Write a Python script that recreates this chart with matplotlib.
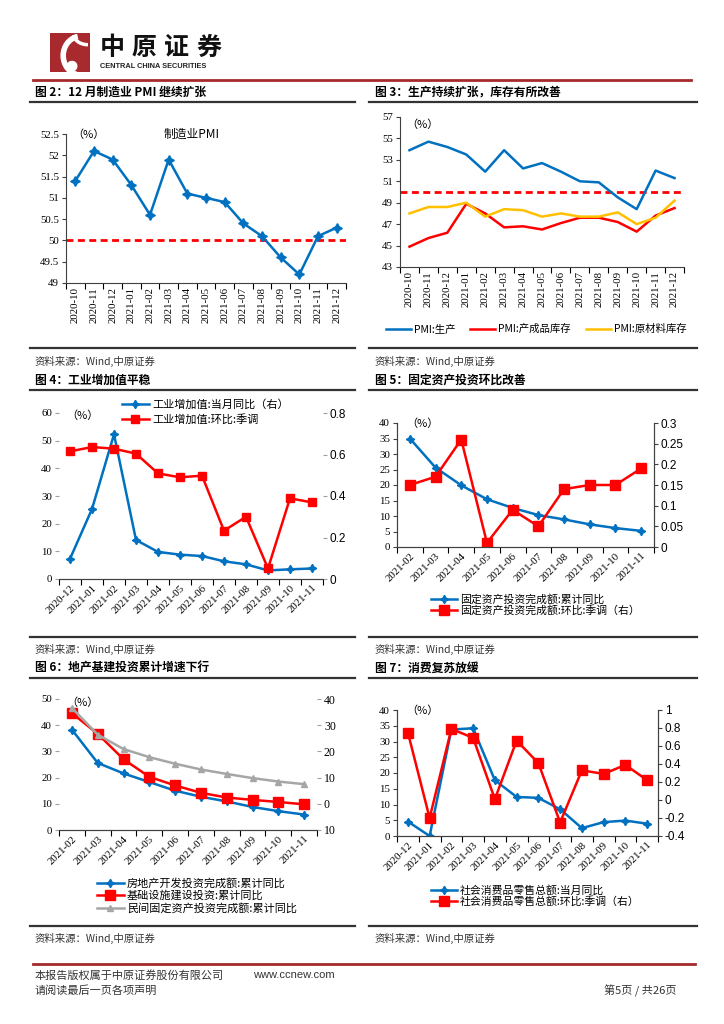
import numpy as np
import matplotlib
matplotlib.use('Agg')
import matplotlib.pyplot as plt
from matplotlib.lines import Line2D
from matplotlib.patches import Rectangle, Arc, Wedge
from matplotlib.font_manager import FontProperties

W, H = 724, 1024
CJK = ['Noto Sans CJK SC', 'DejaVu Sans']
SERIF = 'Liberation Serif'
SANS = 'Liberation Sans'
BLUE = '#0070C0'
RED = '#FF0000'
GOLD = '#FFC000'
GREY = '#A6A6A6'
DARK = '#333333'

# ---- data ----
months15 = ['2020-10', '2020-11', '2020-12', '2021-01', '2021-02', '2021-03', '2021-04',
            '2021-05', '2021-06', '2021-07', '2021-08', '2021-09', '2021-10', '2021-11', '2021-12']
pmi = [51.4, 52.1, 51.9, 51.3, 50.6, 51.9, 51.1, 51.0, 50.9, 50.4, 50.1, 49.6, 49.2, 50.1, 50.3]
pmi_prod = [53.9, 54.7, 54.2, 53.5, 51.9, 53.9, 52.2, 52.7, 51.9, 51.0, 50.9, 49.5, 48.4, 52.0, 51.3]
pmi_fin_inv = [44.9, 45.7, 46.2, 48.9, 48.0, 46.7, 46.8, 46.5, 47.1, 47.6, 47.6, 47.2, 46.3, 47.8, 48.5]
pmi_raw_inv = [48.0, 48.6, 48.6, 49.0, 47.7, 48.4, 48.3, 47.7, 48.0, 47.7, 47.7, 48.1, 47.0, 47.6, 49.2]

months12 = ['2020-12', '2021-01', '2021-02', '2021-03', '2021-04', '2021-05', '2021-06',
            '2021-07', '2021-08', '2021-09', '2021-10', '2021-11']
ip_yoy = [7.3, 25.3, 52.3, 14.1, 9.8, 8.8, 8.3, 6.4, 5.3, 3.1, 3.5, 3.8]
ip_mom = [0.615, 0.636, 0.628, 0.604, 0.509, 0.49, 0.498, 0.233, 0.30, 0.051, 0.389, 0.369]

months10 = ['2021-02', '2021-03', '2021-04', '2021-05', '2021-06', '2021-07', '2021-08',
            '2021-09', '2021-10', '2021-11']
fai_ytd = [35.0, 25.6, 19.9, 15.4, 12.6, 10.3, 8.9, 7.3, 6.1, 5.2]
fai_mom = [0.15, 0.17, 0.26, 0.01, 0.09, 0.05, 0.14, 0.15, 0.15, 0.19]

re_inv = [38.3, 25.6, 21.6, 18.3, 15.0, 12.7, 10.9, 8.8, 7.2, 5.9]
infra_inv = [34.6, 26.7, 17.0, 10.3, 7.0, 4.2, 2.4, 1.5, 0.7, -0.2]
private_inv = [36.6, 26.4, 20.9, 17.8, 15.3, 13.1, 11.4, 9.8, 8.5, 7.5]

retail_yoy = [4.6, 0.0, 33.8, 34.2, 17.7, 12.4, 12.1, 8.5, 2.5, 4.4, 4.9, 3.9]
retail_mom = [0.75, -0.20, 0.79, 0.69, 0.01, 0.66, 0.41, -0.25, 0.33, 0.29, 0.39, 0.22]

plt.rcParams['font.family'] = SERIF
plt.rcParams['axes.edgecolor'] = '#404040'
plt.rcParams['axes.linewidth'] = 0.8

fig = plt.figure(figsize=(W / 100, H / 100), dpi=100)


def add_ax(x0, y0, x1, y1):
    return fig.add_axes([x0 / W, 1 - y1 / H, (x1 - x0) / W, (y1 - y0) / H])


def ftext(x, y, s, **kw):
    kw.setdefault('family', CJK)
    kw.setdefault('va', 'center')
    fig.text(x / W, 1 - y / H, s, **kw)


def hline(x0, x1, y, color=DARK, lw=1.6):
    fig.add_artist(Line2D([x0 / W, x1 / W], [1 - y / H, 1 - y / H], color=color, lw=lw))


def cat_axis(ax, labels, rot):
    n = len(labels)
    ax.set_xlim(-0.5, n - 0.5)
    ax.set_xticks(np.arange(n + 1) - 0.5)
    ax.set_xticklabels([])
    ax.set_xticks(np.arange(n), minor=True)
    if rot == 90:
        ax.set_xticklabels(labels, minor=True, rotation=90, ha='center', va='top')
    else:
        ax.set_xticklabels(labels, minor=True, rotation=45, ha='right', va='top',
                           rotation_mode='anchor')
    ax.tick_params(axis='x', which='major', length=4, direction='out', width=0.8)
    ax.tick_params(axis='x', which='minor', length=0, labelsize=7.8, pad=3)


def yaxis(ax, lo, hi, ticks, labels, fam=SERIF, size=7.8, color='#404040'):
    ax.set_ylim(lo, hi)
    ax.set_yticks(ticks)
    ax.set_yticklabels(labels, family=fam, fontsize=size)
    ax.tick_params(axis='y', length=3, width=0.8, color=color, pad=2)


def legend(handles, labels, x, y, size=7.5, spacing=0.3, ncol=1, colsp=1.0):
    fig.legend(handles, labels, loc='upper left', bbox_to_anchor=(x / W, 1 - y / H),
               frameon=False, prop=FontProperties(family=CJK, size=size),
               handlelength=2.4, handletextpad=0.3, labelspacing=spacing,
               borderpad=0, borderaxespad=0, ncol=ncol, columnspacing=colsp)


STAR = (4, 1, 0)

# ---- header ----
logo = add_ax(50, 33, 90, 72)
logo.set_xlim(0, 1)
logo.set_ylim(0, 1)
logo.axis('off')
logo.add_patch(Rectangle((0, 0), 1, 1, color='#A8292E'))
logo.add_patch(Arc((0.78, 0.42), 0.9, 1.0, theta1=100, theta2=260, color='white', lw=4))
logo.add_patch(Arc((0.95, 0.95), 0.7, 0.5, theta1=180, theta2=270, color='white', lw=2.5))
logo.add_patch(Wedge((0.55, 0.15), 0.12, 0, 360, color='white'))
for i, ch in enumerate('中原证券'):
    ftext(100 + i * 32, 48, ch, fontsize=18, weight='bold', color='#111111')
fig.text(100 / W, 1 - 66 / H, 'CENTRAL CHINA SECURITIES', family=SANS, fontsize=5.3,
         weight='bold', va='center', color='#222222')
hline(33, 691, 80, color='#A52A2A', lw=2)

# ---- section titles / separators ----
ftext(35, 92, '图 2：12 月制造业 PMI 继续扩张', fontsize=8.5, weight='bold')
ftext(375, 92, '图 3：生产持续扩张，库存有所改善', fontsize=8.5, weight='bold')
hline(30, 355, 102)
hline(369, 697, 102)
hline(30, 355, 348)
hline(369, 697, 348)
ftext(35, 361, '资料来源：Wind,中原证券', fontsize=7.5, color=DARK)
ftext(375, 361, '资料来源：Wind,中原证券', fontsize=7.5, color=DARK)

ftext(35, 380, '图 4：工业增加值平稳', fontsize=8.5, weight='bold')
ftext(375, 380, '图 5：固定资产投资环比改善', fontsize=8.5, weight='bold')
hline(30, 355, 390)
hline(369, 697, 390)
hline(30, 355, 637)
hline(369, 697, 637)
ftext(35, 649, '资料来源：Wind,中原证券', fontsize=7.5, color=DARK)
ftext(375, 649, '资料来源：Wind,中原证券', fontsize=7.5, color=DARK)

ftext(35, 668, '图 6：地产基建投资累计增速下行', fontsize=8.5, weight='bold')
ftext(375, 668, '图 7：消费复苏放缓', fontsize=8.5, weight='bold')
hline(30, 355, 678)
hline(369, 697, 678)
hline(30, 355, 926)
hline(369, 697, 926)
ftext(35, 938, '资料来源：Wind,中原证券', fontsize=7.5, color=DARK)
ftext(375, 938, '资料来源：Wind,中原证券', fontsize=7.5, color=DARK)

# ---- chart 2: manufacturing PMI ----
ax2 = add_ax(66, 134, 346, 283)
x15 = np.arange(len(months15))
ax2.axhline(50, color=RED, lw=2, dashes=(2.5, 1.6))
ax2.plot(x15, pmi, color=BLUE, lw=1.8, marker=STAR, ms=7)
yaxis(ax2, 49, 52.5, np.arange(49, 52.51, 0.5),
      ['49', '49.5', '50', '50.5', '51', '51.5', '52', '52.5'])
cat_axis(ax2, months15, 90)
for s in ['top', 'right']:
    ax2.spines[s].set_visible(False)
ftext(72, 135, '（%）', fontsize=8)
ftext(192, 134, '制造业PMI', fontsize=8.5, ha='center')

# ---- chart 3: production & inventories ----
ax3 = add_ax(400, 117, 684, 267)
ax3.axhline(50, color=RED, lw=2, dashes=(2.5, 1.6))
ax3.plot(x15, pmi_prod, color=BLUE, lw=1.8)
ax3.plot(x15, pmi_fin_inv, color=RED, lw=1.8)
ax3.plot(x15, pmi_raw_inv, color=GOLD, lw=1.8)
yaxis(ax3, 43, 57, np.arange(43, 57.1, 2), [str(v) for v in range(43, 58, 2)])
cat_axis(ax3, months15, 90)
for s in ['top', 'right']:
    ax3.spines[s].set_visible(False)
ftext(406, 125, '（%）', fontsize=8)
legend([Line2D([], [], color=c, lw=1.8) for c in (BLUE, RED, GOLD)],
       ['PMI:生产', 'PMI:产成品库存', 'PMI:原材料库存'], 386, 324, size=7.5,
       ncol=3, colsp=1.4)

# ---- chart 4: industrial value added ----
x12 = np.arange(len(months12))
ax4 = add_ax(59, 413, 323, 579)
ax4.plot(x12, ip_yoy, color=BLUE, lw=1.8, marker=STAR, ms=6)
yaxis(ax4, 0, 60, np.arange(0, 61, 10), [str(v) for v in range(0, 61, 10)], color='#A0A0A0')
cat_axis(ax4, months12, 45)
ax4r = ax4.twinx()
ax4r.plot(x12, ip_mom, color=RED, lw=1.8, marker='s', ms=6)
yaxis(ax4r, 0, 0.8, [0, 0.2, 0.4, 0.6, 0.8], ['0', '0.2', '0.4', '0.6', '0.8'],
      fam=SANS, size=8.5, color='#A0A0A0')
for a in (ax4, ax4r):
    for s in ['top', 'left', 'right']:
        a.spines[s].set_visible(False)
ftext(66, 416, '（%）', fontsize=8)
legend([Line2D([], [], color=BLUE, lw=1.8, marker=STAR, ms=6),
        Line2D([], [], color=RED, lw=1.8, marker='s', ms=6)],
       ['工业增加值:当月同比（右）', '工业增加值:环比:季调'], 122, 399, size=8, spacing=0.4)

# ---- chart 5: fixed asset investment ----
x10 = np.arange(len(months10))
ax5 = add_ax(397, 423, 654, 547)
ax5.plot(x10, fai_ytd, color=BLUE, lw=1.8, marker=STAR, ms=6)
yaxis(ax5, 0, 40, np.arange(0, 41, 5), [str(v) for v in range(0, 41, 5)])
cat_axis(ax5, months10, 45)
ax5r = ax5.twinx()
ax5r.plot(x10, fai_mom, color=RED, lw=1.8, marker='s', ms=7)
yaxis(ax5r, 0, 0.3, np.arange(0, 0.301, 0.05),
      ['0', '0.05', '0.1', '0.15', '0.2', '0.25', '0.3'], fam=SANS, size=8.5)
for a in (ax5, ax5r):
    a.spines['top'].set_visible(False)
ftext(406, 424, '（%）', fontsize=8)
legend([Line2D([], [], color=BLUE, lw=1.8, marker=STAR, ms=6),
        Line2D([], [], color=RED, lw=1.8, marker='s', ms=7)],
       ['固定资产投资完成额:累计同比', '固定资产投资完成额:环比:季调（右）'],
       431, 594, size=7.8, spacing=0.05)

# ---- chart 6: property / infra / private investment ----
ax6 = add_ax(59, 699, 317, 830)
ax6.plot(x10, re_inv, color=BLUE, lw=1.8, marker=STAR, ms=6)
yaxis(ax6, 0, 50, np.arange(0, 51, 10), [str(v) for v in range(0, 51, 10)], color='#A0A0A0')
cat_axis(ax6, months10, 45)
ax6r = ax6.twinx()
ax6r.plot(x10, infra_inv, color=RED, lw=1.8, marker='s', ms=7)
ax6r.plot(x10, private_inv, color=GREY, lw=1.8, marker='^', ms=5)
yaxis(ax6r, -10, 40, np.arange(-10, 41, 10), ['10', '0', '10', '20', '30', '40'],
      size=8.5, color='#A0A0A0')
for a in (ax6, ax6r):
    for s in ['top', 'left', 'right']:
        a.spines[s].set_visible(False)
ftext(66, 703, '（%）', fontsize=8)
legend([Line2D([], [], color=BLUE, lw=1.8, marker=STAR, ms=6),
        Line2D([], [], color=RED, lw=1.8, marker='s', ms=7),
        Line2D([], [], color=GREY, lw=1.8, marker='^', ms=5)],
       ['房地产开发投资完成额:累计同比', '基础设施建设投资:累计同比', '民间固定资产投资完成额:累计同比'],
       97, 878, size=8, spacing=0.15)

# ---- chart 7: retail sales ----
ax7 = add_ax(397, 710, 658, 836)
ax7.plot(x12, retail_yoy, color=BLUE, lw=1.8, marker=STAR, ms=6)
yaxis(ax7, 0, 40, np.arange(0, 41, 5), [str(v) for v in range(0, 41, 5)])
cat_axis(ax7, months12, 45)
ax7r = ax7.twinx()
ax7r.plot(x12, retail_mom, color=RED, lw=1.8, marker='s', ms=7)
yaxis(ax7r, -0.4, 1.0, np.arange(-0.4, 1.01, 0.2),
      ['-0.4', '-0.2', '0', '0.2', '0.4', '0.6', '0.8', '1'], fam=SANS, size=8.5)
for a in (ax7, ax7r):
    a.spines['top'].set_visible(False)
ftext(406, 711, '（%）', fontsize=8)
legend([Line2D([], [], color=BLUE, lw=1.8, marker=STAR, ms=6),
        Line2D([], [], color=RED, lw=1.8, marker='s', ms=7)],
       ['社会消费品零售总额:当月同比', '社会消费品零售总额:环比:季调（右）'],
       431, 885, size=7.8, spacing=0.05)

# ---- footer ----
hline(33, 695, 964, color='#A52A2A', lw=2)
ftext(35, 975, '本报告版权属于中原证券股份有限公司', fontsize=8, color=DARK)
fig.text(253 / W, 1 - 975 / H, 'www.ccnew.com', family=SANS, fontsize=8, va='center', color=DARK)
ftext(35, 991, '请阅读最后一页各项声明', fontsize=8, color=DARK)
ftext(677, 991, '第5页 / 共26页', fontsize=8, color=DARK, ha='right')

fig.savefig('out.png', dpi=100)
